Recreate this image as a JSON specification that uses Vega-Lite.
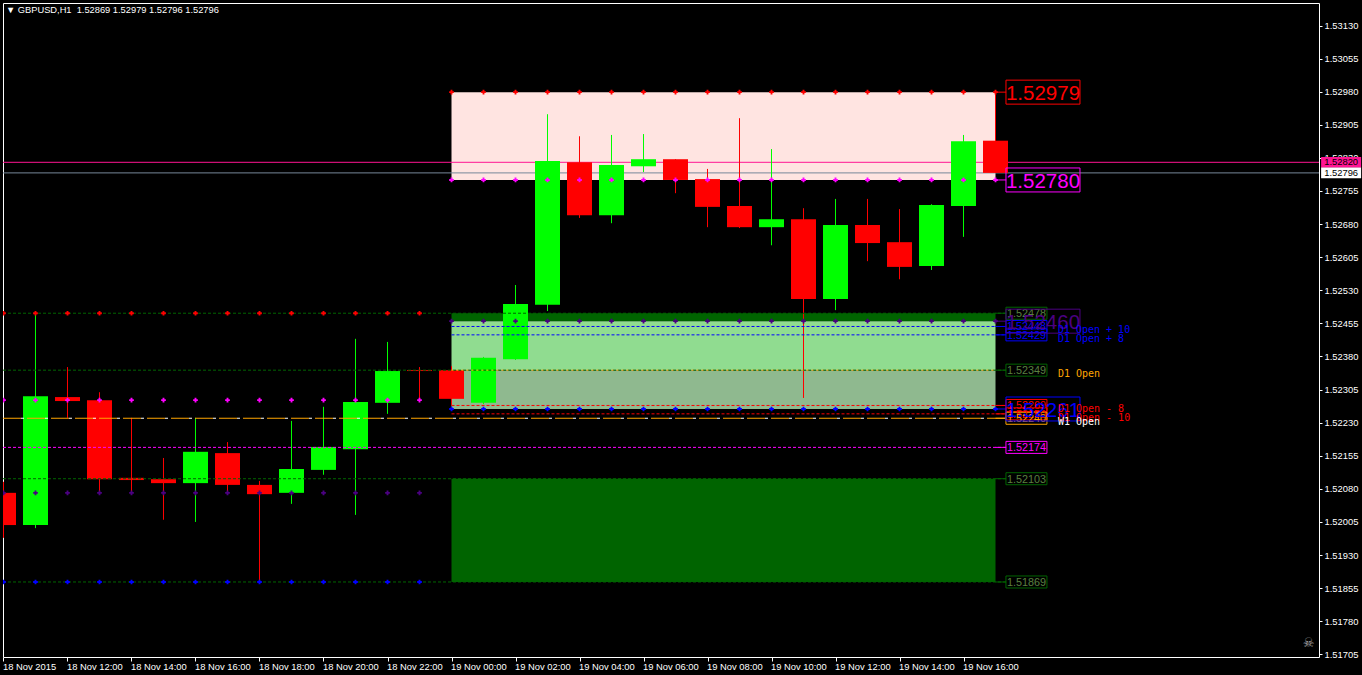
{
"$schema":"https://vega.github.io/schema/vega-lite/v6.json",
"background":"#000000",
"autosize":{"type":"none"},
"padding":{"left":3,"top":3,"right":43,"bottom":18},
"width":1316,"height":654,
"title":{"text":"▼ GBPUSD,H1\u00a0 1.52869 1.52979 1.52796 1.52796","anchor":"start","frame":"group","dx":3,"offset":-12,"color":"#ffffff","font":"Liberation Sans","fontSize":9.3,"fontWeight":"normal"},
"view":{"stroke":"#ffffff","strokeWidth":1},
"config":{"axis":{"title":null,"grid":false,"labelOverlap":false}},
"datasets":{
"candles":[
{"t":"2015-11-18T10:00:00","o":1.52071,"h":1.52096,"l":1.51969,"c":1.51998,"dir":"down"},
{"t":"2015-11-18T11:00:00","o":1.51998,"h":1.52478,"l":1.51991,"c":1.52290,"dir":"up"},
{"t":"2015-11-18T12:00:00","o":1.52288,"h":1.52356,"l":1.52241,"c":1.52279,"dir":"down"},
{"t":"2015-11-18T13:00:00","o":1.52281,"h":1.52299,"l":1.52071,"c":1.52102,"dir":"down"},
{"t":"2015-11-18T14:00:00","o":1.52105,"h":1.52241,"l":1.52071,"c":1.52100,"dir":"down"},
{"t":"2015-11-18T15:00:00","o":1.52102,"h":1.52150,"l":1.52010,"c":1.52093,"dir":"down"},
{"t":"2015-11-18T16:00:00","o":1.52093,"h":1.52241,"l":1.52005,"c":1.52164,"dir":"up"},
{"t":"2015-11-18T17:00:00","o":1.52161,"h":1.52186,"l":1.52071,"c":1.52089,"dir":"down"},
{"t":"2015-11-18T18:00:00","o":1.52089,"h":1.52098,"l":1.51869,"c":1.52068,"dir":"down"},
{"t":"2015-11-18T19:00:00","o":1.52071,"h":1.52234,"l":1.52046,"c":1.52125,"dir":"up"},
{"t":"2015-11-18T20:00:00","o":1.52123,"h":1.52266,"l":1.52112,"c":1.52175,"dir":"up"},
{"t":"2015-11-18T21:00:00","o":1.52170,"h":1.52420,"l":1.52021,"c":1.52277,"dir":"up"},
{"t":"2015-11-18T22:00:00","o":1.52275,"h":1.52413,"l":1.52250,"c":1.52347,"dir":"up"},
{"t":"2015-11-18T23:00:00","o":1.52349,"h":1.52356,"l":1.52281,"c":1.52347,"dir":"down"},
{"t":"2015-11-19T00:00:00","o":1.52349,"h":1.52358,"l":1.52270,"c":1.52284,"dir":"down"},
{"t":"2015-11-19T01:00:00","o":1.52275,"h":1.52379,"l":1.52272,"c":1.52377,"dir":"up"},
{"t":"2015-11-19T02:00:00","o":1.52374,"h":1.52542,"l":1.52372,"c":1.52499,"dir":"up"},
{"t":"2015-11-19T03:00:00","o":1.52497,"h":1.52929,"l":1.52483,"c":1.52823,"dir":"up"},
{"t":"2015-11-19T04:00:00","o":1.52820,"h":1.52879,"l":1.52694,"c":1.52700,"dir":"down"},
{"t":"2015-11-19T05:00:00","o":1.52700,"h":1.52882,"l":1.52682,"c":1.52814,"dir":"up"},
{"t":"2015-11-19T06:00:00","o":1.52811,"h":1.52884,"l":1.52798,"c":1.52827,"dir":"up"},
{"t":"2015-11-19T07:00:00","o":1.52827,"h":1.52827,"l":1.52750,"c":1.52780,"dir":"down"},
{"t":"2015-11-19T08:00:00","o":1.52782,"h":1.52805,"l":1.52673,"c":1.52719,"dir":"down"},
{"t":"2015-11-19T09:00:00","o":1.52721,"h":1.52920,"l":1.52671,"c":1.52673,"dir":"down"},
{"t":"2015-11-19T10:00:00","o":1.52673,"h":1.52850,"l":1.52632,"c":1.52691,"dir":"up"},
{"t":"2015-11-19T11:00:00","o":1.52691,"h":1.52716,"l":1.52286,"c":1.52510,"dir":"down"},
{"t":"2015-11-19T12:00:00","o":1.52510,"h":1.52737,"l":1.52485,"c":1.52678,"dir":"up"},
{"t":"2015-11-19T13:00:00","o":1.52678,"h":1.52737,"l":1.52596,"c":1.52637,"dir":"down"},
{"t":"2015-11-19T14:00:00","o":1.52639,"h":1.52714,"l":1.52555,"c":1.52583,"dir":"down"},
{"t":"2015-11-19T15:00:00","o":1.52585,"h":1.52725,"l":1.52576,"c":1.52723,"dir":"up"},
{"t":"2015-11-19T16:00:00","o":1.52721,"h":1.52882,"l":1.52651,"c":1.52868,"dir":"up"},
{"t":"2015-11-19T17:00:00","o":1.52869,"h":1.52979,"l":1.52796,"c":1.52796,"dir":"down"}
],
"zones":[
{"t0":"2015-11-19T00:00:00","t1":"2015-11-19T17:00:00","p0":1.52979,"p1":1.52780,"kind":"zone high"},
{"t0":"2015-11-19T00:00:00","t1":"2015-11-19T17:00:00","p0":1.52478,"p1":1.52460,"kind":"zone cap"},
{"t0":"2015-11-19T00:00:00","t1":"2015-11-19T17:00:00","p0":1.52460,"p1":1.52349,"kind":"zone upper"},
{"t0":"2015-11-19T00:00:00","t1":"2015-11-19T17:00:00","p0":1.52349,"p1":1.52261,"kind":"zone lower"},
{"t0":"2015-11-19T00:00:00","t1":"2015-11-19T17:00:00","p0":1.52103,"p1":1.51869,"kind":"zone cap"}
],
"prices":[
{"t0":"2015-11-18T09:59:04","t1":"2015-11-20T03:06:33","price":1.52820,"kind":"bid"},
{"t0":"2015-11-18T09:59:04","t1":"2015-11-20T03:06:33","price":1.52796,"kind":"ask"}
],
"levels":[
{"t0":"2015-11-18T09:59:04","t1":"2015-11-19T17:20:00","price":1.52478,"kind":"pivot"},
{"t0":"2015-11-18T09:59:04","t1":"2015-11-19T17:20:00","price":1.52349,"kind":"pivot"},
{"t0":"2015-11-18T09:59:04","t1":"2015-11-19T17:20:00","price":1.52103,"kind":"pivot"},
{"t0":"2015-11-18T09:59:04","t1":"2015-11-19T17:20:00","price":1.51869,"kind":"pivot"},
{"t0":"2015-11-18T09:59:04","t1":"2015-11-19T17:20:00","price":1.52174,"kind":"low"},
{"t0":"2015-11-19T00:00:00","t1":"2015-11-19T17:20:00","price":1.52448,"kind":"plus"},
{"t0":"2015-11-19T00:00:00","t1":"2015-11-19T17:20:00","price":1.52429,"kind":"plus"},
{"t0":"2015-11-19T00:00:00","t1":"2015-11-19T17:20:00","price":1.52269,"kind":"minus"},
{"t0":"2015-11-19T00:00:00","t1":"2015-11-19T17:20:00","price":1.52250,"kind":"minus"}
],
"connectors":[
{"t0":"2015-11-19T17:00:00","t1":"2015-11-19T17:20:00","price":1.52979,"kind":"high"},
{"t0":"2015-11-19T17:00:00","t1":"2015-11-19T17:20:00","price":1.52780,"kind":"low"},
{"t0":"2015-11-19T17:00:00","t1":"2015-11-19T17:20:00","price":1.52478,"kind":"pivot"},
{"t0":"2015-11-19T17:00:00","t1":"2015-11-19T17:20:00","price":1.52460,"kind":"rhigh"},
{"t0":"2015-11-19T17:00:00","t1":"2015-11-19T17:20:00","price":1.52448,"kind":"plus"},
{"t0":"2015-11-19T17:00:00","t1":"2015-11-19T17:20:00","price":1.52429,"kind":"plus"},
{"t0":"2015-11-19T17:00:00","t1":"2015-11-19T17:20:00","price":1.52349,"kind":"pivot"},
{"t0":"2015-11-19T17:00:00","t1":"2015-11-19T17:20:00","price":1.52269,"kind":"minus"},
{"t0":"2015-11-19T17:00:00","t1":"2015-11-19T17:20:00","price":1.52261,"kind":"rlow"},
{"t0":"2015-11-19T17:00:00","t1":"2015-11-19T17:20:00","price":1.52250,"kind":"minus"},
{"t0":"2015-11-19T17:00:00","t1":"2015-11-19T17:20:00","price":1.52240,"kind":"D1 Open"},
{"t0":"2015-11-19T17:00:00","t1":"2015-11-19T17:20:00","price":1.52174,"kind":"low"},
{"t0":"2015-11-19T17:00:00","t1":"2015-11-19T17:20:00","price":1.52103,"kind":"pivot"},
{"t0":"2015-11-19T17:00:00","t1":"2015-11-19T17:20:00","price":1.51869,"kind":"pivot"}
],
"weekly":[{"t0":"2015-11-18T09:59:04","t1":"2015-11-19T17:20:00","price":1.52240}],
"dopen":[{"t0":"2015-11-19T00:00:00","t1":"2015-11-19T17:00:00","price":1.52349}],
"dots":[
{"t":"2015-11-18T10:00:00","high":1.52478,"low":1.52281,"rhigh":1.52071,"rlow":1.51869},
{"t":"2015-11-18T11:00:00","high":1.52478,"low":1.52281,"rhigh":1.52071,"rlow":1.51869},
{"t":"2015-11-18T12:00:00","high":1.52478,"low":1.52281,"rhigh":1.52071,"rlow":1.51869},
{"t":"2015-11-18T13:00:00","high":1.52478,"low":1.52281,"rhigh":1.52071,"rlow":1.51869},
{"t":"2015-11-18T14:00:00","high":1.52478,"low":1.52281,"rhigh":1.52071,"rlow":1.51869},
{"t":"2015-11-18T15:00:00","high":1.52478,"low":1.52281,"rhigh":1.52071,"rlow":1.51869},
{"t":"2015-11-18T16:00:00","high":1.52478,"low":1.52281,"rhigh":1.52071,"rlow":1.51869},
{"t":"2015-11-18T17:00:00","high":1.52478,"low":1.52281,"rhigh":1.52071,"rlow":1.51869},
{"t":"2015-11-18T18:00:00","high":1.52478,"low":1.52281,"rhigh":1.52071,"rlow":1.51869},
{"t":"2015-11-18T19:00:00","high":1.52478,"low":1.52281,"rhigh":1.52071,"rlow":1.51869},
{"t":"2015-11-18T20:00:00","high":1.52478,"low":1.52281,"rhigh":1.52071,"rlow":1.51869},
{"t":"2015-11-18T21:00:00","high":1.52478,"low":1.52281,"rhigh":1.52071,"rlow":1.51869},
{"t":"2015-11-18T22:00:00","high":1.52478,"low":1.52281,"rhigh":1.52071,"rlow":1.51869},
{"t":"2015-11-18T23:00:00","high":1.52478,"low":1.52281,"rhigh":1.52071,"rlow":1.51869},
{"t":"2015-11-19T00:00:00","high":1.52979,"low":1.52780,"rhigh":1.52460,"rlow":1.52261},
{"t":"2015-11-19T01:00:00","high":1.52979,"low":1.52780,"rhigh":1.52460,"rlow":1.52261},
{"t":"2015-11-19T02:00:00","high":1.52979,"low":1.52780,"rhigh":1.52460,"rlow":1.52261},
{"t":"2015-11-19T03:00:00","high":1.52979,"low":1.52780,"rhigh":1.52460,"rlow":1.52261},
{"t":"2015-11-19T04:00:00","high":1.52979,"low":1.52780,"rhigh":1.52460,"rlow":1.52261},
{"t":"2015-11-19T05:00:00","high":1.52979,"low":1.52780,"rhigh":1.52460,"rlow":1.52261},
{"t":"2015-11-19T06:00:00","high":1.52979,"low":1.52780,"rhigh":1.52460,"rlow":1.52261},
{"t":"2015-11-19T07:00:00","high":1.52979,"low":1.52780,"rhigh":1.52460,"rlow":1.52261},
{"t":"2015-11-19T08:00:00","high":1.52979,"low":1.52780,"rhigh":1.52460,"rlow":1.52261},
{"t":"2015-11-19T09:00:00","high":1.52979,"low":1.52780,"rhigh":1.52460,"rlow":1.52261},
{"t":"2015-11-19T10:00:00","high":1.52979,"low":1.52780,"rhigh":1.52460,"rlow":1.52261},
{"t":"2015-11-19T11:00:00","high":1.52979,"low":1.52780,"rhigh":1.52460,"rlow":1.52261},
{"t":"2015-11-19T12:00:00","high":1.52979,"low":1.52780,"rhigh":1.52460,"rlow":1.52261},
{"t":"2015-11-19T13:00:00","high":1.52979,"low":1.52780,"rhigh":1.52460,"rlow":1.52261},
{"t":"2015-11-19T14:00:00","high":1.52979,"low":1.52780,"rhigh":1.52460,"rlow":1.52261},
{"t":"2015-11-19T15:00:00","high":1.52979,"low":1.52780,"rhigh":1.52460,"rlow":1.52261},
{"t":"2015-11-19T16:00:00","high":1.52979,"low":1.52780,"rhigh":1.52460,"rlow":1.52261},
{"t":"2015-11-19T17:00:00","high":1.52979,"low":1.52780,"rhigh":1.52460,"rlow":1.52261}
],
"small":[
{"t":"2015-11-19T17:58:00","price":1.52250,"label":"1.52250","kind":"minus"},
{"t":"2015-11-19T17:58:00","price":1.52269,"label":"1.52269","kind":"minus"},
{"t":"2015-11-19T17:58:00","price":1.52478,"label":"1.52478","kind":"pivot"},
{"t":"2015-11-19T17:58:00","price":1.52448,"label":"1.52448","kind":"plus"},
{"t":"2015-11-19T17:58:00","price":1.52429,"label":"1.52429","kind":"plus"},
{"t":"2015-11-19T17:58:00","price":1.52349,"label":"1.52349","kind":"pivot"},
{"t":"2015-11-19T17:58:00","price":1.52174,"label":"1.52174","kind":"low"},
{"t":"2015-11-19T17:58:00","price":1.52103,"label":"1.52103","kind":"pivot"},
{"t":"2015-11-19T17:58:00","price":1.51869,"label":"1.51869","kind":"pivot"},
{"t":"2015-11-19T17:58:00","price":1.52240,"label":"1.52240","kind":"D1 Open"}
],
"big":[
{"t":"2015-11-19T18:29:00","price":1.52979,"label":"1.52979","kind":"high"},
{"t":"2015-11-19T18:29:00","price":1.52780,"label":"1.52780","kind":"low"},
{"t":"2015-11-19T18:29:00","price":1.52460,"label":"1.52460","kind":"rhigh"},
{"t":"2015-11-19T18:29:00","price":1.52261,"label":"1.52261","kind":"rlow"}
],
"names":[
{"t":"2015-11-19T18:57:00","price":1.52448,"label":"D1 Open + 10","kind":"plus"},
{"t":"2015-11-19T18:57:00","price":1.52429,"label":"D1 Open + 8","kind":"plus"},
{"t":"2015-11-19T18:57:00","price":1.52349,"label":"D1 Open","kind":"D1 Open"},
{"t":"2015-11-19T18:57:00","price":1.52269,"label":"D1 Open - 8","kind":"minus"},
{"t":"2015-11-19T18:57:00","price":1.52250,"label":"D1 Open - 10","kind":"minus"},
{"t":"2015-11-19T18:57:00","price":1.52240,"label":"W1 Open","kind":"W1 Open"}
],
"tags":[
{"t":"2015-11-20T03:48:00","price":1.52820,"label":"1.52820","kind":"bid"},
{"t":"2015-11-20T03:48:00","price":1.52796,"label":"1.52796","kind":"W1 Open"}
],
"icon":[{"t":"2015-11-20T02:47:00","price":1.51731,"label":"☠"}]
},
"layer":[
{"data":{"name":"zones"},"mark":{"type":"rect","clip":true},
 "encoding":{
  "x":{"field":"t0","type":"temporal","scale":{"domain":[{"year":2015,"month":11,"date":18,"hours":9,"minutes":59,"seconds":4},{"year":2015,"month":11,"date":20,"hours":3,"minutes":6,"seconds":33}],"nice":false,"padding":0},
   "axis":{"orient":"bottom","values":[
    {"year":2015,"month":11,"date":18,"hours":10},{"year":2015,"month":11,"date":18,"hours":12},{"year":2015,"month":11,"date":18,"hours":14},{"year":2015,"month":11,"date":18,"hours":16},{"year":2015,"month":11,"date":18,"hours":18},{"year":2015,"month":11,"date":18,"hours":20},{"year":2015,"month":11,"date":18,"hours":22},{"year":2015,"month":11,"date":19,"hours":0},{"year":2015,"month":11,"date":19,"hours":2},{"year":2015,"month":11,"date":19,"hours":4},{"year":2015,"month":11,"date":19,"hours":6},{"year":2015,"month":11,"date":19,"hours":8},{"year":2015,"month":11,"date":19,"hours":10},{"year":2015,"month":11,"date":19,"hours":12},{"year":2015,"month":11,"date":19,"hours":14},{"year":2015,"month":11,"date":19,"hours":16}],
    "tickCount":60,
    "labelExpr":"hours(datum.value)==10&&date(datum.value)==18?'18 Nov 2015':timeFormat(datum.value,'%d %b %H:%M')",
    "labelAlign":"left","labelBaseline":"top","labelFlush":false,"labelOverlap":false,"labelBound":false,"labelPadding":1,"labelOffset":-1,"labelAngle":0,
    "labelColor":"#ffffff","labelFont":"Liberation Sans","labelFontSize":9.4,"tickColor":"#ffffff","tickSize":4,"tickWidth":1,"domain":false,"grid":false,"title":null}},
  "x2":{"field":"t1"},
  "y":{"field":"p0","type":"quantitative","scale":{"domain":[1.51699,1.53181],"nice":false,"zero":false},
   "axis":{"orient":"right","values":[1.51705,1.51780,1.51855,1.51930,1.52005,1.52080,1.52155,1.52230,1.52305,1.52380,1.52455,1.52530,1.52605,1.52680,1.52755,1.52830,1.52905,1.52980,1.53055,1.53130],
    "tickCount":40,
    "format":".5f","labelColor":"#ffffff","labelFont":"Liberation Sans","labelFontSize":9.4,"labelPadding":2,"labelOverlap":false,"labelFlush":false,"labelBound":false,"tickColor":"#ffffff","tickSize":3,"tickWidth":1,"domain":false,"grid":false,"title":null}},
  "y2":{"field":"p1"},
  "color":{"field":"kind","type":"nominal","legend":null,"scale":{
   "domain":["up","down","zone high","zone cap","zone upper","zone lower","bid","ask","high","low","rhigh","rlow","pivot","plus","minus","D1 Open","W1 Open"],
   "range":["#00ff00","#ff0000","#ffe4e1","#006400","#90dc90","#8fb98f","#ff1493","#778899","#ff0000","#ff00ff","#4b0082","#0000ff","#006400","#0000ff","#ff0000","#ffa500","#ffffff"]}}
 }},
{"data":{"name":"prices"},"mark":{"type":"rule","strokeWidth":1,"clip":true},
 "encoding":{"x":{"field":"t0","type":"temporal"},"x2":{"field":"t1"},"y":{"field":"price","type":"quantitative"},"color":{"field":"kind","type":"nominal","legend":null}}},
{"data":{"name":"candles"},"mark":{"type":"rule","strokeWidth":1,"clip":true},
 "encoding":{"x":{"field":"t","type":"temporal"},"y":{"field":"l","type":"quantitative"},"y2":{"field":"h"},"color":{"field":"dir","type":"nominal","legend":null}}},
{"data":{"name":"candles"},"mark":{"type":"bar","size":25,"clip":true,"strokeWidth":0},
 "encoding":{"x":{"field":"t","type":"temporal","scale":{"padding":0}},"y":{"field":"o","type":"quantitative"},"y2":{"field":"c"},"color":{"field":"dir","type":"nominal","legend":null}}},
{"data":{"name":"levels"},"mark":{"type":"rule","strokeWidth":1,"strokeDash":[3,2],"clip":true},
 "encoding":{"x":{"field":"t0","type":"temporal"},"x2":{"field":"t1"},"y":{"field":"price","type":"quantitative"},"color":{"field":"kind","type":"nominal","legend":null}}},
{"data":{"name":"dopen"},"mark":{"type":"rule","strokeWidth":1,"strokeDash":[2,3],"color":"#ffa500","clip":true},
 "encoding":{"x":{"field":"t0","type":"temporal"},"x2":{"field":"t1"},"y":{"field":"price","type":"quantitative"}}},
{"data":{"name":"weekly"},"mark":{"type":"rule","strokeWidth":1,"strokeDash":[18,6],"color":"#ffa500","clip":true},
 "encoding":{"x":{"field":"t0","type":"temporal"},"x2":{"field":"t1"},"y":{"field":"price","type":"quantitative"}}},
{"data":{"name":"weekly"},"mark":{"type":"rule","strokeWidth":1,"strokeDash":[0,18,3,3],"color":"#ffffff","clip":true},
 "encoding":{"x":{"field":"t0","type":"temporal"},"x2":{"field":"t1"},"y":{"field":"price","type":"quantitative"}}},
{"data":{"name":"connectors"},"mark":{"type":"rule","strokeWidth":1},
 "encoding":{"x":{"field":"t0","type":"temporal"},"x2":{"field":"t1"},"y":{"field":"price","type":"quantitative"},"color":{"field":"kind","type":"nominal","legend":null}}},
{"data":{"name":"dots"},"transform":[{"fold":["high","low","rhigh","rlow"],"as":["series","price"]}],"mark":{"type":"point","shape":"cross","filled":true,"size":22,"opacity":1,"clip":true},
 "encoding":{"x":{"field":"t","type":"temporal"},"y":{"field":"price","type":"quantitative"},"color":{"field":"series","type":"nominal","legend":null}}},
{"data":{"name":"small"},"mark":{"type":"point","shape":"M-1,-0.293H1V0.293H-1Z","filled":false,"size":1681,"strokeWidth":1,"opacity":1},
 "encoding":{"x":{"field":"t","type":"temporal"},"y":{"field":"price","type":"quantitative"},"color":{"field":"kind","type":"nominal","legend":null}}},
{"data":{"name":"small"},"mark":{"type":"text","font":"Liberation Sans","fontSize":10.8,"align":"center","baseline":"middle","dy":1},
 "encoding":{"x":{"field":"t","type":"temporal"},"y":{"field":"price","type":"quantitative"},"text":{"field":"label"},"color":{"condition":{"test":"datum.kind==='pivot'","value":"#5a8040"},"field":"kind","type":"nominal","legend":null}}},
{"data":{"name":"big"},"mark":{"type":"point","shape":"M-1,-0.324H1V0.324H-1Z","filled":false,"size":5476,"strokeWidth":1,"opacity":1},
 "encoding":{"x":{"field":"t","type":"temporal"},"y":{"field":"price","type":"quantitative"},"color":{"field":"kind","type":"nominal","legend":null}}},
{"data":{"name":"big"},"mark":{"type":"text","font":"Liberation Sans","fontSize":20.5,"align":"center","baseline":"middle","dy":2},
 "encoding":{"x":{"field":"t","type":"temporal"},"y":{"field":"price","type":"quantitative"},"text":{"field":"label"},"color":{"field":"kind","type":"nominal","legend":null}}},
{"data":{"name":"names"},"mark":{"type":"text","font":"DejaVu Sans Mono","fontSize":10,"align":"left","baseline":"middle","dy":4},
 "encoding":{"x":{"field":"t","type":"temporal"},"y":{"field":"price","type":"quantitative"},"text":{"field":"label"},"color":{"field":"kind","type":"nominal","legend":null}}},
{"data":{"name":"tags"},"mark":{"type":"point","shape":"M-1,-0.27H1V0.27H-1Z","filled":true,"size":1600,"opacity":1},
 "encoding":{"x":{"field":"t","type":"temporal"},"y":{"field":"price","type":"quantitative"},"color":{"field":"kind","type":"nominal","legend":null}}},
{"data":{"name":"tags"},"mark":{"type":"text","font":"Liberation Sans","fontSize":9.4,"color":"#000000","align":"center","baseline":"middle"},
 "encoding":{"x":{"field":"t","type":"temporal"},"y":{"field":"price","type":"quantitative"},"text":{"field":"label"}}},
{"data":{"name":"icon"},"mark":{"type":"text","font":"DejaVu Sans","fontSize":13,"color":"#a8a8a8","align":"center","baseline":"middle"},
 "encoding":{"x":{"field":"t","type":"temporal"},"y":{"field":"price","type":"quantitative"},"text":{"field":"label"}}}
]
}
